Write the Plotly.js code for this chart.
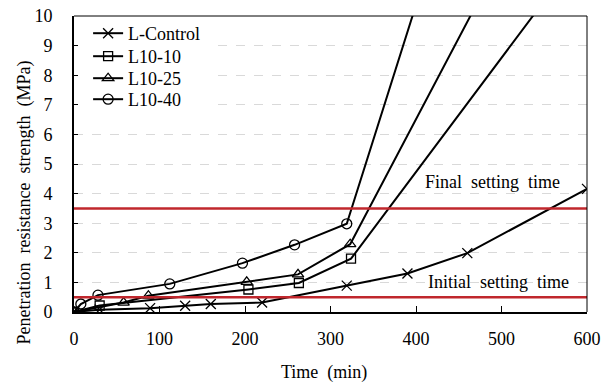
<!DOCTYPE html>
<html>
<head>
<meta charset="utf-8">
<script src="https://cdn.plot.ly/plotly-3.0.1.min.js"></script>
<style>html,body{margin:0;padding:0;background:#fff;}#chart{width:611px;height:386px;}</style>
</head>
<body>
<div id="chart"></div>
<script>
// Data
const ctrlTime = [0, 30, 89, 130, 160, 220, 319, 390, 460, 600];
const ctrlVal  = [0, 0.08, 0.13, 0.21, 0.27, 0.32, 0.89, 1.30, 1.99, 4.16];
const l1010Time = [0, 30, 204, 263, 324, 560];
const l1010Val  = [0, 0.22, 0.76, 0.98, 1.80, 10.9];
const l1025Time = [0, 58, 87, 202, 262, 323, 480];
const l1025Val  = [0, 0.32, 0.55, 1.02, 1.27, 2.29, 10.9];
const l1040Time = [0, 8, 28, 112, 197, 258, 319, 420];
const l1040Val  = [0, 0.27, 0.57, 0.95, 1.65, 2.27, 2.98, 12.2];
const refTime = [0, 600];
const initialSet = [0.5, 0.5];
const finalSet = [3.5, 3.5];
const seriesNames = ['L-Control', 'L10-10', 'L10-25', 'L10-40'];
const xTicks = [0, 100, 200, 300, 400, 500, 600];
const yTicks = [0, 1, 2, 3, 4, 5, 6, 7, 8, 9, 10];

function F() { return {family: 'Liberation Serif', size: 18, color: '#000', weight: 400}; }
function lineStyle() { return {color: '#000', width: 2}; }
function mk(sym, size) { return {symbol: sym, size: size, color: '#000', line: {color: '#000', width: 1.3}}; }

const traces = [
  {x: ctrlTime, y: ctrlVal, name: seriesNames[0], legend: 'legend', mode: 'lines+markers', line: lineStyle(), marker: mk('x-thin-open', 10)},
  {x: l1010Time, y: l1010Val, name: seriesNames[1], legend: 'legend2', mode: 'lines+markers', line: lineStyle(), marker: mk('square-open', 9)},
  {x: l1025Time, y: l1025Val, name: seriesNames[2], legend: 'legend3', mode: 'lines+markers', line: lineStyle(), marker: mk('triangle-up-open', 10)},
  {x: l1040Time, y: l1040Val, name: seriesNames[3], legend: 'legend4', mode: 'lines+markers', line: lineStyle(), marker: mk('circle-open', 10)},
  {x: refTime, y: initialSet, mode: 'lines', showlegend: false, hoverinfo: 'skip', line: {color: '#c0272d', width: 2.5}},
  {x: refTime, y: finalSet, mode: 'lines', showlegend: false, hoverinfo: 'skip', line: {color: '#c0272d', width: 2.5}}
];

const pw = 611 - 74 - 24, ph = 386 - 16 - 74, plotBottom = 386 - 74;
function leg(centerPx) {
  return {x: 0.0275, y: (plotBottom - centerPx) / ph, xanchor: 'left', yanchor: 'middle', bgcolor: 'rgba(0,0,0,0)',
          borderwidth: 0, font: F(), itemwidth: 30};
}
// legend background box (pixel bounds converted to axis units)
const legBox = {x0: (78 - 74) / pw * 600, x1: (211 - 74) / pw * 600, y0: (plotBottom - 111) / ph * 10, y1: (plotBottom - 20) / ph * 10};

const layout = {
  width: 611, height: 386,
  margin: {l: 74, r: 24, t: 16, b: 74},
  paper_bgcolor: '#fff', plot_bgcolor: '#fff',
  font: F(),
  showlegend: true,
  legend: leg(33.5), legend2: leg(56.5), legend3: leg(78.5), legend4: leg(99.5),
  xaxis: {range: [0, 600], tickvals: xTicks, ticktext: xTicks.map(String), ticks: 'inside', ticklen: 6, tickwidth: 1, tickcolor: '#000',
          showline: true, linecolor: '#000', linewidth: 2, showgrid: false, zeroline: false,
          tickfont: F(), ticklabelstandoff: 9},
  yaxis: {range: [0, 10], tickvals: yTicks, ticktext: yTicks.map(String), ticks: 'inside', ticklen: 4, tickwidth: 1, tickcolor: '#000',
          showline: true, linecolor: '#000', linewidth: 2, showgrid: true, gridcolor: '#d9d9d9', griddash: 'dash', gridwidth: 1,
          zeroline: false, tickfont: F(), ticklabelstandoff: 16},
  shapes: [
    {type: 'rect', xref: 'x', yref: 'y', layer: 'between', x0: legBox.x0, x1: legBox.x1,
     y0: legBox.y0, y1: legBox.y1, fillcolor: '#fff', line: {width: 0}},
    {type: 'line', xref: 'paper', yref: 'paper', x0: 0, x1: 1, y0: 1, y1: 1, line: {color: '#000', width: 1}},
    {type: 'line', xref: 'paper', yref: 'paper', x0: 1, x1: 1, y0: 0, y1: 1, line: {color: '#000', width: 1}}
  ],
  annotations: [
    {x: 489, y: 4.38, xref: 'x', yref: 'y', text: 'Final\u00a0 setting\u00a0 time', showarrow: false,
     xanchor: 'center', yanchor: 'middle', font: F()},
    {x: 496, y: 1.0, xref: 'x', yref: 'y', text: 'Initial\u00a0 setting\u00a0 time', showarrow: false,
     xanchor: 'center', yanchor: 'middle', font: F()},
    {x: (24 - 74) / pw, y: (plotBottom - 202.5) / ph, xref: 'paper', yref: 'paper',
     text: 'Penetration\u00a0 resistance\u00a0 strength\u00a0 (MPa)', showarrow: false,
     textangle: -90, xanchor: 'center', yanchor: 'middle', font: F()},
    {x: (324 - 74) / pw, y: (plotBottom - 372) / ph, xref: 'paper', yref: 'paper', text: 'Time\u00a0 (min)', showarrow: false,
     xanchor: 'center', yanchor: 'middle', font: F()}
  ]
};

Plotly.newPlot('chart', traces, layout, {staticPlot: true, displayModeBar: false});
</script>
</body>
</html>
